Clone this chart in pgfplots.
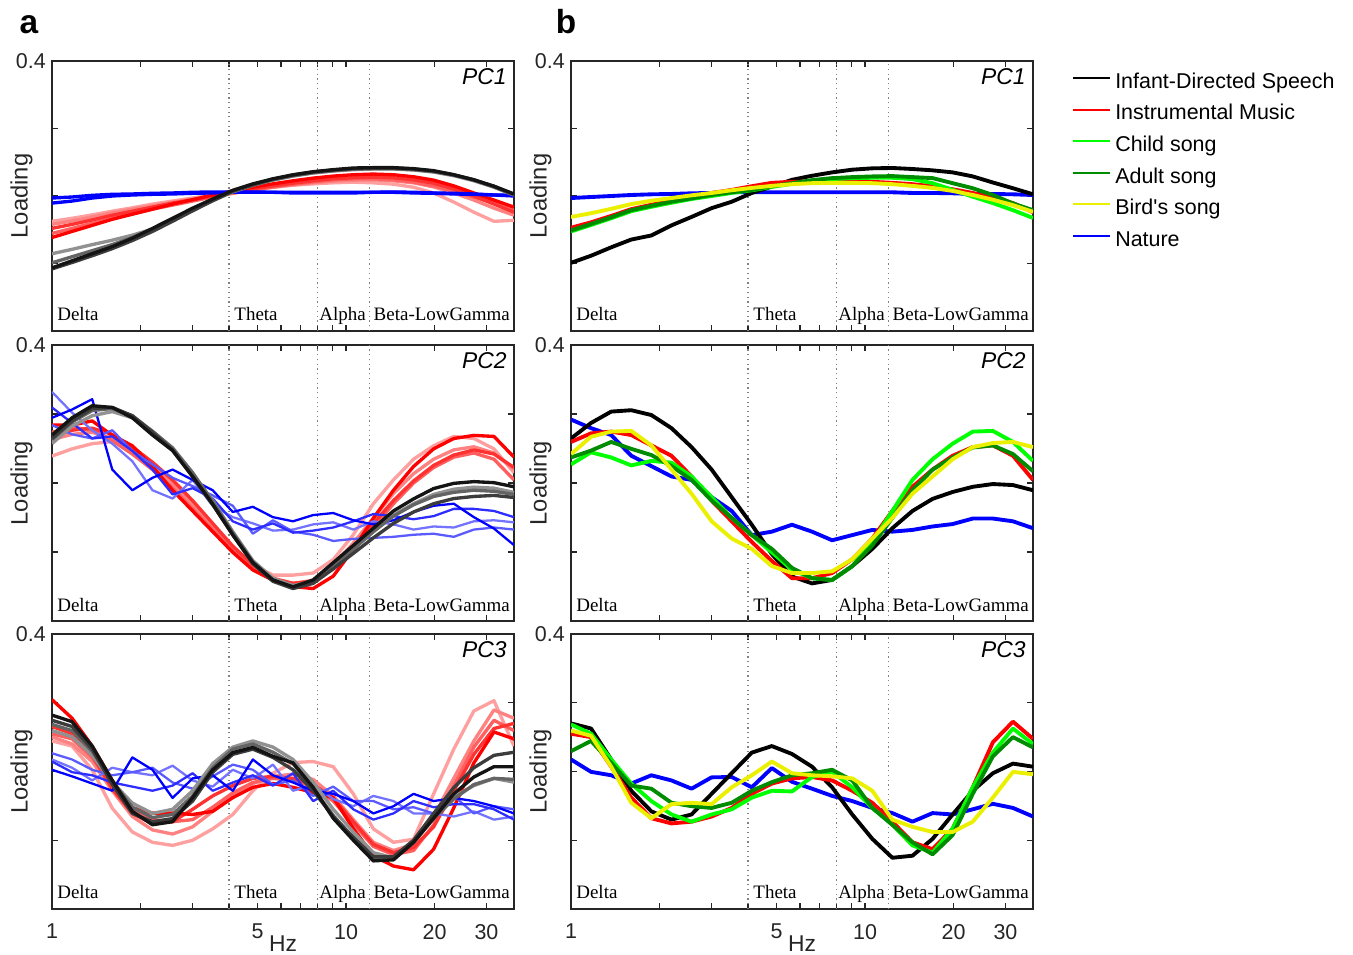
\documentclass[border=0pt]{standalone}
\usepackage{fontspec}
\setmainfont{Liberation Sans}
\newfontfamily\bandfont{Liberation Serif}
\usepackage{pgfplots}
\usepackage{pgfplotstable}
\pgfplotsset{compat=1.18}

\definecolor{axgray}{RGB}{38,38,38}
\definecolor{dotgray}{RGB}{130,130,130}
\definecolor{lgreen}{RGB}{0,255,0}
\definecolor{dgreen}{RGB}{0,140,0}
\definecolor{yel}{RGB}{235,240,0}
% panel a shades
\definecolor{b1}{RGB}{0,0,255}
\definecolor{b2}{RGB}{45,45,255}
\definecolor{b3}{RGB}{90,90,255}
\definecolor{b4}{RGB}{115,115,255}
\definecolor{r1}{RGB}{255,0,0}
\definecolor{r2}{RGB}{255,50,50}
\definecolor{r3}{RGB}{255,95,95}
\definecolor{r4}{RGB}{255,130,130}
\definecolor{r5}{RGB}{255,160,160}
\definecolor{g1}{RGB}{20,20,20}
\definecolor{g2}{RGB}{60,60,60}
\definecolor{g3}{RGB}{100,100,100}
\definecolor{g4}{RGB}{145,145,145}

% ---------- panel a, PC1 ----------
\pgfplotstableread{
f BA BB RA RB RC RD RE GA GB GC GD
1.000 -0.006 -0.021 -0.123 -0.096 -0.084 -0.075 -0.111 -0.213 -0.171 -0.198 -0.216
1.170 -0.003 -0.015 -0.105 -0.084 -0.074 -0.066 -0.096 -0.192 -0.158 -0.180 -0.197
1.370 0.002 -0.006 -0.087 -0.071 -0.062 -0.056 -0.081 -0.171 -0.144 -0.162 -0.177
1.603 0.005 0 -0.069 -0.057 -0.050 -0.045 -0.066 -0.150 -0.131 -0.144 -0.156
1.876 0.006 0.003 -0.054 -0.045 -0.039 -0.035 -0.053 -0.125 -0.116 -0.123 -0.132
2.196 0.008 0.005 -0.039 -0.033 -0.029 -0.024 -0.039 -0.096 -0.098 -0.099 -0.105
2.570 0.009 0.006 -0.024 -0.021 -0.018 -0.015 -0.027 -0.066 -0.072 -0.071 -0.075
3.007 0.011 0.008 -0.011 -0.011 -0.009 -0.006 -0.015 -0.036 -0.042 -0.041 -0.044
3.519 0.012 0.009 0.003 0 0 0.003 -0.003 -0.009 -0.014 -0.012 -0.014
4.119 0.012 0.011 0.015 0.011 0.009 0.011 0.008 0.017 0.012 0.014 0.014
4.819 0.012 0.011 0.026 0.021 0.018 0.018 0.018 0.036 0.032 0.033 0.033
5.640 0.011 0.011 0.036 0.030 0.026 0.026 0.027 0.051 0.047 0.048 0.050
6.600 0.011 0.009 0.045 0.038 0.033 0.032 0.035 0.063 0.059 0.060 0.062
7.725 0.011 0.009 0.053 0.045 0.039 0.036 0.042 0.072 0.068 0.069 0.071
9.041 0.011 0.009 0.059 0.051 0.044 0.039 0.048 0.078 0.074 0.075 0.077
10.58 0.011 0.009 0.063 0.054 0.047 0.041 0.051 0.083 0.078 0.080 0.081
12.38 0.011 0.011 0.065 0.056 0.048 0.039 0.051 0.084 0.080 0.081 0.083
14.49 0.011 0.012 0.063 0.054 0.045 0.035 0.048 0.084 0.080 0.081 0.083
16.96 0.009 0.011 0.057 0.048 0.039 0.026 0.041 0.081 0.077 0.078 0.080
19.85 0.008 0.009 0.047 0.038 0.027 0.009 0.030 0.075 0.071 0.072 0.074
23.23 0.006 0.008 0.030 0.021 0.009 -0.018 0.015 0.063 0.060 0.062 0.063
27.19 0.005 0.006 0.009 0 -0.012 -0.048 -0.003 0.048 0.045 0.047 0.048
31.82 0.003 0.003 -0.012 -0.024 -0.036 -0.075 -0.021 0.029 0.026 0.027 0.029
37.23 0.002 0 -0.033 -0.048 -0.057 -0.072 -0.039 0.006 0.003 0.003 0.005
}\tabAi

% ---------- panel a, PC2 ----------
\pgfplotstableread{
f RA RB RC RD RE BLa BLb BLc BLd GA GB GC GD
1.000 0.168 0.135 0.126 0.078 0.147 0.189 0.219 0.264 0.168 0.139 0.114 0.126 0.129
1.170 0.168 0.153 0.141 0.099 0.162 0.213 0.174 0.204 0.141 0.189 0.165 0.177 0.180
1.370 0.180 0.159 0.147 0.114 0.153 0.243 0.129 0.153 0.129 0.224 0.195 0.210 0.216
1.603 0.138 0.141 0.129 0.120 0.123 0.039 0.135 0.114 0.153 0.219 0.207 0.216 0.219
1.876 0.108 0.105 0.096 0.099 0.084 -0.021 0.093 0.063 0.093 0.189 0.189 0.195 0.195
2.196 0.048 0.060 0.051 0.060 0.039 0.015 0.039 -0.021 0.054 0.139 0.150 0.150 0.147
2.570 -0.021 0.009 -0.003 0.009 -0.015 0.039 -0.033 -0.045 0.015 0.094 0.099 0.102 0.096
3.007 -0.081 -0.051 -0.063 -0.057 -0.075 0.009 -0.015 0.009 -0.009 0.019 0.027 0.030 0.018
3.519 -0.141 -0.117 -0.129 -0.126 -0.135 -0.021 -0.045 -0.066 -0.036 -0.061 -0.051 -0.054 -0.063
4.119 -0.201 -0.183 -0.192 -0.189 -0.195 -0.084 -0.111 -0.099 -0.066 -0.151 -0.141 -0.144 -0.150
4.819 -0.252 -0.237 -0.243 -0.237 -0.246 -0.069 -0.135 -0.117 -0.147 -0.231 -0.225 -0.228 -0.234
5.640 -0.282 -0.276 -0.279 -0.267 -0.279 -0.099 -0.117 -0.138 -0.108 -0.281 -0.276 -0.282 -0.285
6.600 -0.300 -0.291 -0.291 -0.267 -0.291 -0.111 -0.144 -0.135 -0.141 -0.301 -0.297 -0.303 -0.306
7.725 -0.306 -0.285 -0.282 -0.261 -0.285 -0.093 -0.138 -0.120 -0.150 -0.281 -0.285 -0.288 -0.291
9.041 -0.270 -0.246 -0.240 -0.222 -0.249 -0.087 -0.129 -0.114 -0.168 -0.231 -0.240 -0.240 -0.249
10.58 -0.192 -0.186 -0.174 -0.150 -0.195 -0.108 -0.111 -0.135 -0.162 -0.181 -0.189 -0.192 -0.204
12.38 -0.102 -0.117 -0.102 -0.060 -0.129 -0.120 -0.090 -0.111 -0.159 -0.131 -0.141 -0.141 -0.159
14.49 -0.021 -0.051 -0.030 0.009 -0.060 -0.108 -0.096 -0.120 -0.156 -0.081 -0.093 -0.096 -0.117
16.96 0.048 0.006 0.027 0.069 0 -0.084 -0.105 -0.135 -0.150 -0.046 -0.060 -0.063 -0.084
19.85 0.099 0.051 0.069 0.108 0.045 -0.066 -0.096 -0.126 -0.147 -0.016 -0.033 -0.039 -0.060
23.23 0.129 0.081 0.096 0.135 0.075 -0.060 -0.075 -0.129 -0.156 -0.001 -0.018 -0.027 -0.045
27.19 0.138 0.096 0.105 0.129 0.087 -0.099 -0.075 -0.111 -0.135 0.004 -0.012 -0.021 -0.039
31.82 0.135 0.084 0.087 0.099 0.069 -0.132 -0.081 -0.108 -0.129 0.001 -0.015 -0.024 -0.036
37.23 0.075 0.045 0.039 0.030 0.009 -0.180 -0.099 -0.114 -0.135 -0.011 -0.027 -0.033 -0.042
}\tabAii

% ---------- panel a, PC3 ----------
\pgfplotstableread{
f RA RB RC RD RE BLa BLb BLc BLd GA GB GC GD
1.000 0.209 0.110 0.101 0.089 0.131 0.005 0.053 0.035 0.029 0.164 0.119 0.137 0.149
1.170 0.155 0.095 0.080 0.074 0.110 -0.014 0.035 0.011 -0.002 0.145 0.101 0.119 0.131
1.370 0.074 0.041 0.029 0.005 0.047 -0.035 0.005 -0.026 -0.011 0.074 0.047 0.059 0.065
1.603 -0.026 -0.041 -0.056 -0.107 -0.050 -0.056 -0.011 0.011 -0.032 -0.026 -0.031 -0.029 -0.038
1.876 -0.106 -0.110 -0.131 -0.176 -0.122 0.041 -0.002 -0.002 -0.044 -0.116 -0.092 -0.104 -0.122
2.196 -0.121 -0.140 -0.170 -0.206 -0.152 0.005 0.011 -0.011 -0.056 -0.155 -0.122 -0.134 -0.146
2.570 -0.121 -0.146 -0.182 -0.215 -0.146 -0.077 -0.032 0.017 -0.041 -0.146 -0.110 -0.125 -0.137
3.007 -0.125 -0.140 -0.161 -0.200 -0.110 -0.020 -0.050 -0.026 -0.005 -0.076 -0.056 -0.071 -0.086
3.519 -0.116 -0.104 -0.116 -0.167 -0.071 -0.011 -0.014 -0.044 -0.056 0.005 0.023 0.011 -0.002
4.119 -0.076 -0.062 -0.071 -0.125 -0.041 -0.056 0.020 0.005 -0.032 0.055 0.071 0.065 0.050
4.819 -0.046 -0.032 -0.035 -0.056 -0.020 0.035 0.005 -0.020 -0.011 0.070 0.089 0.080 0.065
5.640 -0.035 -0.020 -0.014 -0.005 -0.014 -0.011 -0.038 0.020 -0.041 0.044 0.071 0.056 0.041
6.600 -0.046 -0.026 -0.008 0.026 -0.020 -0.032 -0.026 -0.056 -0.005 0.025 0.035 0.023 0.005
7.725 -0.061 -0.044 -0.023 0.029 -0.038 -0.056 -0.071 -0.038 -0.086 -0.046 -0.031 -0.050 -0.056
9.041 -0.076 -0.086 -0.071 0.014 -0.077 -0.065 -0.044 -0.080 -0.056 -0.136 -0.110 -0.128 -0.131
10.58 -0.166 -0.152 -0.140 -0.065 -0.146 -0.086 -0.086 -0.101 -0.110 -0.200 -0.176 -0.194 -0.191
12.38 -0.245 -0.218 -0.206 -0.167 -0.212 -0.122 -0.086 -0.071 -0.140 -0.260 -0.236 -0.251 -0.248
14.49 -0.275 -0.242 -0.230 -0.206 -0.236 -0.101 -0.110 -0.086 -0.122 -0.257 -0.251 -0.254 -0.248
16.96 -0.286 -0.230 -0.212 -0.197 -0.221 -0.065 -0.104 -0.122 -0.086 -0.206 -0.200 -0.206 -0.200
19.85 -0.226 -0.155 -0.131 -0.065 -0.161 -0.086 -0.122 -0.122 -0.104 -0.136 -0.131 -0.137 -0.122
23.23 -0.106 -0.041 -0.020 0.065 -0.056 -0.077 -0.071 -0.131 -0.095 -0.065 -0.074 -0.080 -0.047
27.19 0.025 0.071 0.089 0.176 0.050 -0.086 -0.122 -0.116 -0.095 -0.016 -0.041 -0.038 0.011
31.82 0.115 0.149 0.179 0.206 0.125 -0.101 -0.101 -0.140 -0.110 0.014 -0.020 -0.020 0.047
37.23 0.095 0.119 0.155 0.074 0.140 -0.122 -0.110 -0.131 -0.140 0.014 -0.031 -0.023 0.056
}\tabAiii

% ---------- panel b ----------
\pgfplotstableread{
f BK RD LG DG YE BL
1.000 -0.198 -0.094 -0.105 -0.102 -0.062 -0.006
1.170 -0.177 -0.078 -0.086 -0.083 -0.051 -0.003
1.370 -0.152 -0.059 -0.066 -0.063 -0.038 0
1.603 -0.129 -0.039 -0.045 -0.042 -0.024 0.003
1.876 -0.117 -0.026 -0.032 -0.029 -0.014 0.005
2.196 -0.087 -0.014 -0.020 -0.017 -0.006 0.006
2.570 -0.062 -0.003 -0.009 -0.007 0.002 0.008
3.007 -0.036 0.009 0 0.003 0.009 0.009
3.519 -0.017 0.018 0.009 0.011 0.017 0.011
4.119 0.009 0.029 0.017 0.018 0.024 0.011
4.819 0.028 0.039 0.027 0.029 0.030 0.011
5.640 0.048 0.042 0.036 0.038 0.035 0.011
6.600 0.060 0.043 0.044 0.047 0.038 0.011
7.725 0.070 0.044 0.050 0.053 0.039 0.011
9.041 0.078 0.044 0.053 0.056 0.039 0.011
10.58 0.082 0.042 0.054 0.058 0.038 0.011
12.38 0.083 0.039 0.054 0.059 0.035 0.011
14.49 0.080 0.035 0.050 0.056 0.030 0.009
16.96 0.076 0.029 0.038 0.053 0.024 0.009
19.85 0.070 0.020 0.018 0.038 0.015 0.008
23.23 0.058 0.009 -0.002 0.023 0.003 0.006
27.19 0.040 -0.005 -0.021 0.003 -0.011 0.006
31.82 0.023 -0.021 -0.042 -0.022 -0.027 0.005
37.23 0.005 -0.048 -0.065 -0.042 -0.047 0.003
}\tabBi

\pgfplotstableread{
f BK RD LG DG YE BL
1.000 0.129 0.119 0.054 0.074 0.084 0.184
1.170 0.174 0.144 0.089 0.094 0.134 0.159
1.370 0.207 0.149 0.074 0.119 0.149 0.139
1.603 0.211 0.139 0.051 0.099 0.151 0.079
1.876 0.197 0.109 0.064 0.081 0.109 0.049
2.196 0.159 0.079 0.059 0.049 0.039 0.019
2.570 0.104 0.019 0.019 0.009 -0.031 0.009
3.007 0.039 -0.051 -0.041 -0.051 -0.111 -0.041
3.519 -0.041 -0.111 -0.101 -0.101 -0.161 -0.081
4.119 -0.121 -0.171 -0.151 -0.151 -0.191 -0.151
4.819 -0.206 -0.226 -0.201 -0.191 -0.241 -0.141
5.640 -0.271 -0.276 -0.251 -0.246 -0.261 -0.121
6.600 -0.291 -0.276 -0.276 -0.276 -0.261 -0.141
7.725 -0.281 -0.261 -0.281 -0.281 -0.256 -0.166
9.041 -0.241 -0.221 -0.241 -0.241 -0.221 -0.151
10.58 -0.191 -0.161 -0.171 -0.181 -0.161 -0.136
12.38 -0.131 -0.081 -0.081 -0.101 -0.101 -0.141
14.49 -0.081 -0.011 0.009 -0.021 -0.031 -0.136
16.96 -0.046 0.039 0.069 0.039 0.019 -0.126
19.85 -0.026 0.079 0.114 0.074 0.069 -0.119
23.23 -0.011 0.104 0.149 0.103 0.104 -0.103
27.19 -0.003 0.109 0.151 0.109 0.116 -0.103
31.82 -0.006 0.079 0.119 0.084 0.119 -0.111
37.23 -0.021 0.009 0.064 0.034 0.104 -0.131
}\tabBii

\pgfplotstableread{
f BK RD LG DG YE BL
1.000 0.140 0.110 0.137 0.059 0.119 0.035
1.170 0.125 0.100 0.110 0.089 0.104 -0.001
1.370 0.035 0.014 0.035 0.025 0.014 -0.011
1.603 -0.056 -0.076 -0.035 -0.041 -0.091 -0.035
1.876 -0.116 -0.136 -0.086 -0.050 -0.136 -0.011
2.196 -0.140 -0.151 -0.125 -0.091 -0.095 -0.026
2.570 -0.125 -0.146 -0.146 -0.101 -0.091 -0.050
3.007 -0.065 -0.131 -0.125 -0.106 -0.095 -0.017
3.519 -0.005 -0.106 -0.110 -0.091 -0.046 -0.016
4.119 0.055 -0.065 -0.076 -0.056 -0.011 -0.046
4.819 0.074 -0.035 -0.056 -0.031 0.029 0.010
5.640 0.051 -0.020 -0.058 -0.011 -0.005 -0.030
6.600 0.014 -0.016 -0.016 -0.005 -0.011 -0.050
7.725 -0.046 -0.026 -0.001 0.005 -0.014 -0.071
9.041 -0.125 -0.056 -0.046 -0.026 -0.020 -0.086
10.58 -0.196 -0.091 -0.106 -0.106 -0.056 -0.106
12.38 -0.251 -0.146 -0.155 -0.155 -0.140 -0.121
14.49 -0.245 -0.206 -0.215 -0.206 -0.161 -0.146
16.96 -0.196 -0.226 -0.236 -0.241 -0.176 -0.121
19.85 -0.125 -0.166 -0.166 -0.185 -0.176 -0.125
23.23 -0.056 -0.046 -0.046 -0.065 -0.146 -0.110
27.19 -0.005 0.085 0.055 0.044 -0.076 -0.094
31.82 0.023 0.145 0.125 0.100 -0.001 -0.106
37.23 0.014 0.095 0.080 0.070 -0.008 -0.131
}\tabBiii

\pgfplotsset{
  pcax/.style={
    scale only axis, width=9.24cm, anchor=north west,
    xmin=1, xmax=37.23, ymin=-0.4, ymax=0.4,
    xtick={1,5,10,20,30}, minor xtick={2,3,4,6,7,8,9}, xticklabels={},
    ytick={-0.4,-0.2,0,0.2,0.4}, yticklabels={,,,,0.4},
    tick align=inside, major tick length=0.12cm, minor tick length=0.12cm,
    axis line style={axgray, line width=0.8pt},
    every tick/.style={axgray, line width=0.8pt},
    /pgf/number format/assume math mode=true,
    tick label style={font=\fontsize{12.2}{14}\selectfont, text=axgray},
    xticklabel style={yshift=-0.18cm},
    ylabel={Loading},
    ylabel style={font=\fontsize{13.5}{15}\selectfont, text=axgray,
      at={(axis description cs:-0.066,0.5)}, anchor=center},
  },
  bottomrow/.style={
    xticklabels={1,5,10,20,30},
    xlabel={Hz},
    xlabel style={font=\fontsize{13}{15}\selectfont, text=axgray,
      at={(axis description cs:0.5,0)}, anchor=center, yshift=-0.69cm},
  },
  aR/.style={line width=1.9pt, line join=round},
  aB/.style={line width=1.3pt, line join=round},
  bL/.style={line width=2.2pt, line join=round},
}

\newcommand{\bands}{%
  \draw[dotgray, dotted, line width=0.7pt] (axis cs:4,-0.4) -- (axis cs:4,0.4);
  \draw[dotgray, dotted, line width=0.7pt] (axis cs:8,-0.4) -- (axis cs:8,0.4);
  \draw[dotgray, dotted, line width=0.7pt] (axis cs:12,-0.4) -- (axis cs:12,0.4);
}
\newcommand{\bandlabels}[1]{%
  \node[anchor=base west, inner sep=0pt, xshift=0.1cm, yshift=0.2cm, font=\bandfont\fontsize{10.8}{12}\selectfont] at (axis cs:1,-0.4) {Delta};
  \node[anchor=base west, inner sep=0pt, xshift=0.1cm, yshift=0.2cm, font=\bandfont\fontsize{10.8}{12}\selectfont] at (axis cs:4,-0.4) {Theta};
  \node[anchor=base west, inner sep=0pt, xshift=0.03cm, yshift=0.2cm, font=\bandfont\fontsize{10.8}{12}\selectfont] at (axis cs:8,-0.4) {Alpha};
  \node[anchor=base west, inner sep=0pt, xshift=0.08cm, yshift=0.2cm, font=\bandfont\fontsize{10.8}{12}\selectfont] at (axis cs:12,-0.4) {Beta-LowGamma};
  \node[anchor=north east, inner sep=0pt, xshift=-0.14cm, yshift=-0.15cm, font=\fontsize{13}{15}\selectfont\itshape] at (rel axis cs:1,1) {#1};
}

\begin{document}
\begin{tikzpicture}
\path[use as bounding box] (0,0) rectangle (27.06cm,-19.1cm);
\node[anchor=base, font=\fontsize{19}{20}\selectfont\bfseries] at (0.58cm,-0.66cm) {a};
\node[anchor=base, font=\fontsize{19}{20}\selectfont\bfseries] at (11.32cm,-0.66cm) {b};

% ================= panel a =================
\begin{semilogxaxis}[pcax, height=5.4cm, at={(1.04cm,-1.22cm)}]
\bands
\addplot[aR, r5] table[x=f,y=RD]{\tabAi};
\addplot[aR, r4] table[x=f,y=RC]{\tabAi};
\addplot[aR, r3] table[x=f,y=RE]{\tabAi};
\addplot[aR, r2] table[x=f,y=RB]{\tabAi};
\addplot[aR, r1] table[x=f,y=RA]{\tabAi};
\addplot[aR, b1] table[x=f,y=BB]{\tabAi};
\addplot[aR, b1] table[x=f,y=BA]{\tabAi};
\addplot[aR, g4] table[x=f,y=GB]{\tabAi};
\addplot[aR, g3] table[x=f,y=GC]{\tabAi};
\addplot[aR, g2] table[x=f,y=GD]{\tabAi};
\addplot[aR, g1] table[x=f,y=GA]{\tabAi};
\bandlabels{PC1}
\end{semilogxaxis}

\begin{semilogxaxis}[pcax, height=5.52cm, at={(1.04cm,-6.9cm)}]
\bands
\addplot[aR, r5] table[x=f,y=RD]{\tabAii};
\addplot[aR, r4] table[x=f,y=RC]{\tabAii};
\addplot[aR, r3] table[x=f,y=RE]{\tabAii};
\addplot[aR, r2] table[x=f,y=RB]{\tabAii};
\addplot[aR, r1] table[x=f,y=RA]{\tabAii};
\addplot[aB, b4] table[x=f,y=BLc]{\tabAii};
\addplot[aB, b3] table[x=f,y=BLd]{\tabAii};
\addplot[aB, b2] table[x=f,y=BLb]{\tabAii};
\addplot[aB, b1] table[x=f,y=BLa]{\tabAii};
\addplot[aR, g4] table[x=f,y=GB]{\tabAii};
\addplot[aR, g3] table[x=f,y=GC]{\tabAii};
\addplot[aR, g2] table[x=f,y=GD]{\tabAii};
\addplot[aR, g1] table[x=f,y=GA]{\tabAii};
\bandlabels{PC2}
\end{semilogxaxis}

\begin{semilogxaxis}[pcax, bottomrow, height=5.5cm, at={(1.04cm,-12.68cm)}]
\bands
\addplot[aR, r5] table[x=f,y=RD]{\tabAiii};
\addplot[aR, r4] table[x=f,y=RC]{\tabAiii};
\addplot[aR, r3] table[x=f,y=RB]{\tabAiii};
\addplot[aR, r2] table[x=f,y=RE]{\tabAiii};
\addplot[aR, r1] table[x=f,y=RA]{\tabAiii};
\addplot[aB, b4] table[x=f,y=BLc]{\tabAiii};
\addplot[aB, b3] table[x=f,y=BLb]{\tabAiii};
\addplot[aB, b2] table[x=f,y=BLd]{\tabAiii};
\addplot[aB, b1] table[x=f,y=BLa]{\tabAiii};
\addplot[aR, g4] table[x=f,y=GB]{\tabAiii};
\addplot[aR, g3] table[x=f,y=GC]{\tabAiii};
\addplot[aR, g2] table[x=f,y=GD]{\tabAiii};
\addplot[aR, g1] table[x=f,y=GA]{\tabAiii};
\bandlabels{PC3}
\end{semilogxaxis}

% ================= panel b =================
\begin{semilogxaxis}[pcax, height=5.4cm, at={(11.42cm,-1.22cm)},
  legend style={draw=none, fill=none, at={(rel axis cs:1,1)}, anchor=north west,
    xshift=0.78cm, yshift=-0.22cm, inner sep=0pt, row sep=6pt, column sep=0.08cm,
    font=\fontsize{12.2}{14}\selectfont,
    nodes={inner sep=0pt, text height=9pt, text depth=3pt}},
  legend cell align=left,
  legend image code/.code={\draw[#1, line width=1.1pt] (0cm,0.1cm) -- (0.74cm,0.1cm);},
]
\bands
\addplot[bL, blue, forget plot] table[x=f,y=BL]{\tabBi};
\addplot[bL, black, forget plot] table[x=f,y=BK]{\tabBi};
\addplot[bL, red, forget plot] table[x=f,y=RD]{\tabBi};
\addplot[bL, lgreen, forget plot] table[x=f,y=LG]{\tabBi};
\addplot[bL, dgreen, forget plot] table[x=f,y=DG]{\tabBi};
\addplot[bL, yel, forget plot] table[x=f,y=YE]{\tabBi};
\addlegendimage{black}\addlegendentry{Infant-Directed Speech}
\addlegendimage{red}\addlegendentry{Instrumental Music}
\addlegendimage{lgreen}\addlegendentry{Child song}
\addlegendimage{dgreen}\addlegendentry{Adult song}
\addlegendimage{yel}\addlegendentry{Bird\textquotesingle s song}
\addlegendimage{blue}\addlegendentry{Nature}
\bandlabels{PC1}
\end{semilogxaxis}

\begin{semilogxaxis}[pcax, height=5.52cm, at={(11.42cm,-6.9cm)}]
\bands
\addplot[bL, blue] table[x=f,y=BL]{\tabBii};
\addplot[bL, black] table[x=f,y=BK]{\tabBii};
\addplot[bL, red] table[x=f,y=RD]{\tabBii};
\addplot[bL, lgreen] table[x=f,y=LG]{\tabBii};
\addplot[bL, dgreen] table[x=f,y=DG]{\tabBii};
\addplot[bL, yel] table[x=f,y=YE]{\tabBii};
\bandlabels{PC2}
\end{semilogxaxis}

\begin{semilogxaxis}[pcax, bottomrow, height=5.5cm, at={(11.42cm,-12.68cm)}]
\bands
\addplot[bL, blue] table[x=f,y=BL]{\tabBiii};
\addplot[bL, black] table[x=f,y=BK]{\tabBiii};
\addplot[bL, red] table[x=f,y=RD]{\tabBiii};
\addplot[bL, lgreen] table[x=f,y=LG]{\tabBiii};
\addplot[bL, dgreen] table[x=f,y=DG]{\tabBiii};
\addplot[bL, yel] table[x=f,y=YE]{\tabBiii};
\bandlabels{PC3}
\end{semilogxaxis}
\end{tikzpicture}
\end{document}
